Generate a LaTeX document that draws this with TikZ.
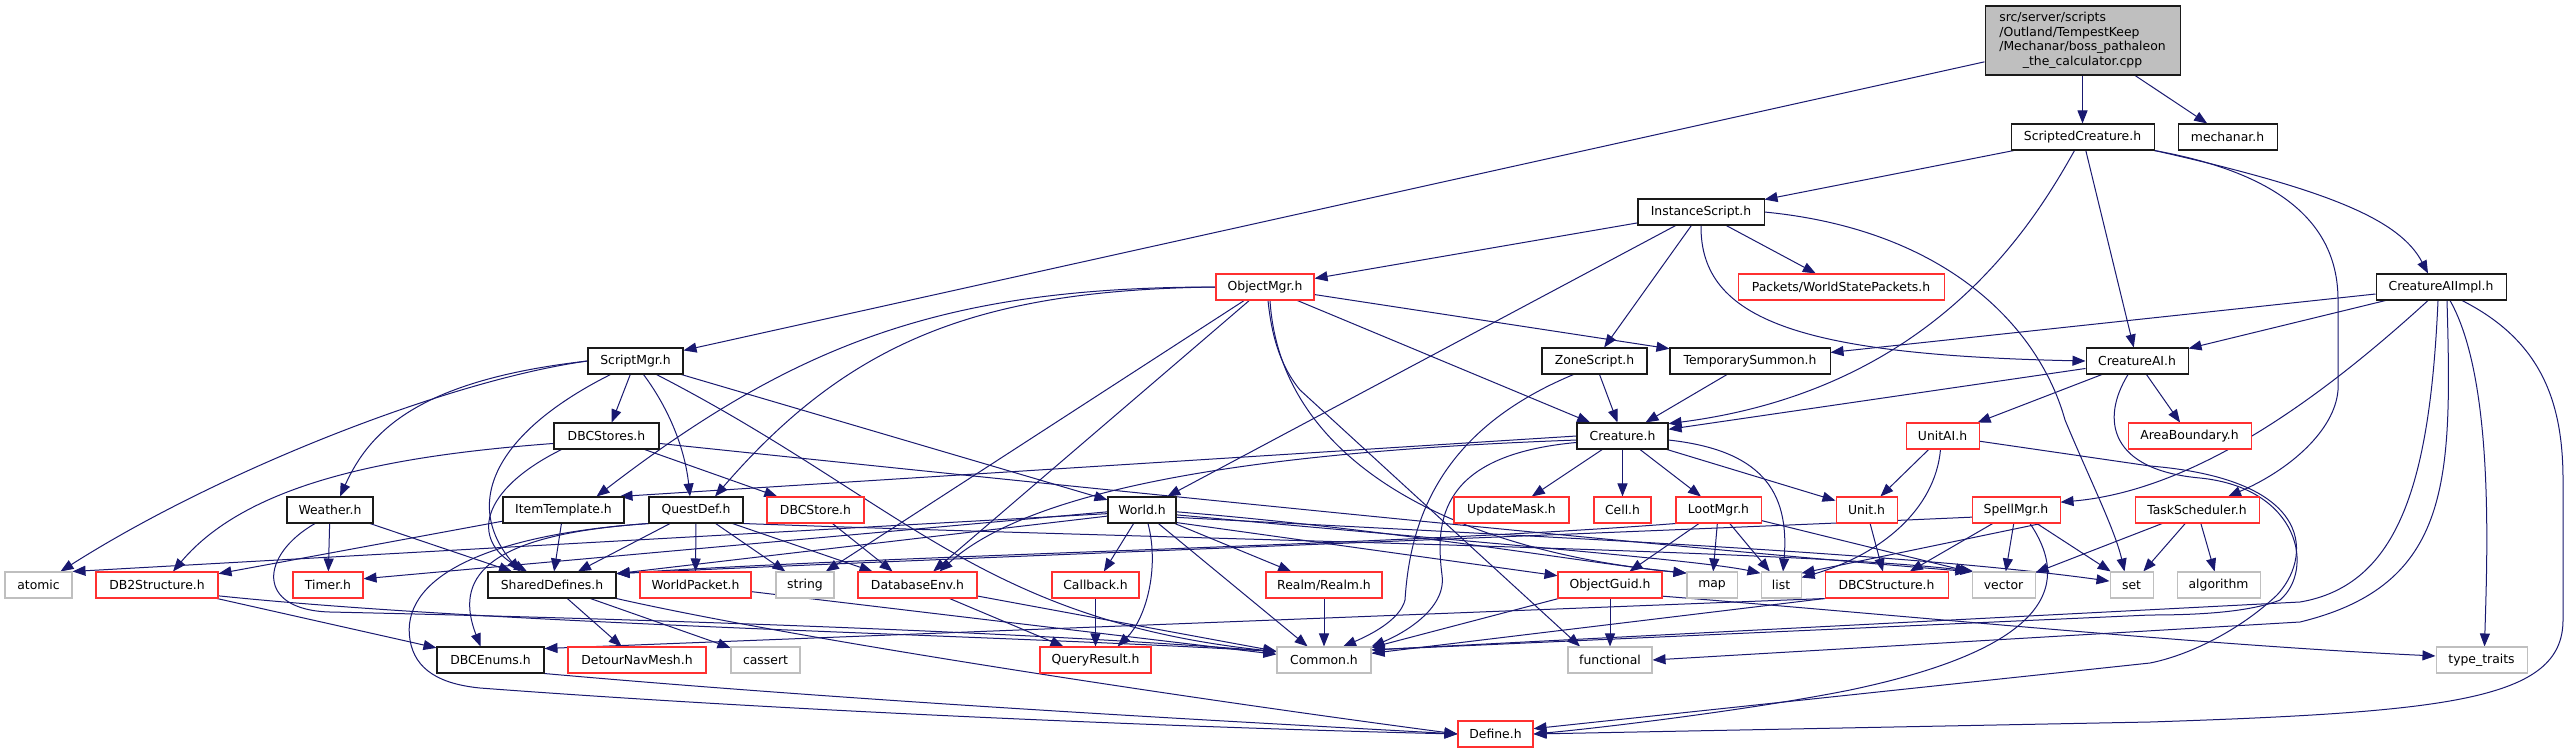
\documentclass[tikz,border=0pt]{standalone}
\usepackage{fontspec}
\setmainfont{DejaVu Sans}
\usetikzlibrary{arrows.meta}
\pgfdeclarelayer{bg}
\pgfsetlayers{bg,main}
\definecolor{edgeblue}{HTML}{191970}
\definecolor{nodered}{HTML}{FF3030}
\definecolor{nodegray}{HTML}{BFBFBF}
\definecolor{nodeblack}{HTML}{1A1A1A}
\newcommand\nodefnt{\fontsize{12.4}{14.7}\selectfont}
\tikzset{
  nb/.style={draw=nodeblack, line width=1.05pt, fill=white, minimum height=26, inner sep=0pt, font=\nodefnt},
  nr/.style={nb, draw=nodered},
  ng/.style={nb, draw=nodegray},
  ed/.style={draw=edgeblue, line width=1pt, -{Triangle[length=13pt,width=10pt]}}
}
\begin{document}
\begin{tikzpicture}[x=1pt,y=-1pt]
\useasboundingbox (0,0) rectangle (2571,753);
% nodes
\node[nb,fill=nodegray,minimum width=195,minimum height=69] (main) at (2082.5,40.5)
  {\begin{tabular}{@{}l@{}}src/server/scripts\\/Outland/TempestKeep\\/Mechanar/boss\_pathaleon\\\multicolumn{1}{@{}c@{}}{\_the\_calculator.cpp}\end{tabular}};
\node[nb,minimum width=143] (sc) at (2082.5,137) {ScriptedCreature.h};
\node[nb,minimum width=99] (mech) at (2227.5,137) {mechanar.h};
\node[nb,minimum width=126] (inst) at (1701,212) {InstanceScript.h};
\node[nr,minimum width=206] (pkts) at (1841,287) {Packets/WorldStatePackets.h};
\node[nb,minimum width=130] (caiimpl) at (2441,287) {CreatureAIImpl.h};
\node[nr,minimum width=98] (objmgr) at (1265,287) {ObjectMgr.h};
\node[nb,minimum width=95] (smgr) at (635.5,361) {ScriptMgr.h};
\node[nb,minimum width=105] (zone) at (1594.5,361) {ZoneScript.h};
\node[nb,minimum width=160] (tsum) at (1750,361) {TemporarySummon.h};
\node[nb,minimum width=102] (cai) at (2137,361) {CreatureAI.h};
\node[nb,minimum width=105] (dbcstores) at (606.5,436) {DBCStores.h};
\node[nb,minimum width=91] (creature) at (1622.5,436) {Creature.h};
\node[nr,minimum width=73] (unitai) at (1942.5,436) {UnitAI.h};
\node[nr,minimum width=123] (areab) at (2189.5,436) {AreaBoundary.h};
\node[nb,minimum width=86] (weather) at (330,510) {Weather.h};
\node[nb,minimum width=121] (itemt) at (563.5,510) {ItemTemplate.h};
\node[nb,minimum width=94] (quest) at (696,510) {QuestDef.h};
\node[nr,minimum width=97] (dbcstore) at (815.5,510) {DBCStore.h};
\node[nb,minimum width=68] (world) at (1142,510) {World.h};
\node[nr,minimum width=115] (updm) at (1511.5,510) {UpdateMask.h};
\node[nr,minimum width=57] (cell) at (1622.5,510) {Cell.h};
\node[nr,minimum width=85] (loot) at (1718.5,510) {LootMgr.h};
\node[nr,minimum width=61] (unit) at (1866.5,510) {Unit.h};
\node[nr,minimum width=88] (spell) at (2016,510) {SpellMgr.h};
\node[nr,minimum width=124] (task) at (2197,510) {TaskScheduler.h};
\node[ng,minimum width=67] (atomic) at (38.5,585) {atomic};
\node[nr,minimum width=122] (db2) at (157,585) {DB2Structure.h};
\node[nr,minimum width=70] (timer) at (328,585) {Timer.h};
\node[nb,minimum width=128] (shared) at (552,585) {SharedDefines.h};
\node[nr,minimum width=111] (wpkt) at (695.5,585) {WorldPacket.h};
\node[ng,minimum width=58] (string) at (805,585) {string};
\node[nr,minimum width=119] (dbenv) at (917.5,585) {DatabaseEnv.h};
\node[nr,minimum width=87] (callback) at (1095.5,585) {Callback.h};
\node[nr,minimum width=116] (realm) at (1324,585) {Realm/Realm.h};
\node[nr,minimum width=104] (guid) at (1610,585) {ObjectGuid.h};
\node[ng,minimum width=50] (map) at (1712,585) {map};
\node[ng,minimum width=40] (list) at (1781,585) {list};
\node[nr,minimum width=123] (dbcstruct) at (1886.5,585) {DBCStructure.h};
\node[ng,minimum width=63] (vector) at (2003.5,585) {vector};
\node[ng,minimum width=43] (set) at (2131.5,585) {set};
\node[ng,minimum width=83] (algo) at (2218.5,585) {algorithm};
\node[nb,minimum width=107] (dbcenums) at (490.5,660) {DBCEnums.h};
\node[nr,minimum width=138] (detour) at (637,660) {DetourNavMesh.h};
\node[ng,minimum width=69] (cassert) at (765.5,660) {cassert};
\node[nr,minimum width=111] (qres) at (1095.5,660) {QueryResult.h};
\node[ng,minimum width=94] (common) at (1324,660) {Common.h};
\node[ng,minimum width=84] (functional) at (1610,660) {functional};
\node[ng,minimum width=91] (typet) at (2481.5,660) {type\_traits};
\node[nr,minimum width=75] (define) at (1495.5,734) {Define.h};
% edges
\begin{pgfonlayer}{bg}
\fill[white] (0,0) rectangle (2571,753);
% main
\draw[ed] (main) -- (sc);
\draw[ed] (main) -- (mech);
\draw[ed] (main) -- (smgr);
% ScriptedCreature
\draw[ed] (sc) -- (inst);
\draw[ed] ([xshift=-8]sc.south) .. controls (2030,230) and (1930,390) .. (creature.15);
\draw[ed] (sc) -- (cai);
\draw[ed] (sc.south east) .. controls (2330,190) and (2400,220) .. ([xshift=-13]caiimpl.north);
\draw[ed] (sc.south east) .. controls (2290,175) and (2338,230) .. (2338,300) -- (2338,390) .. controls (2335,430) and (2290,470) .. ([xshift=31]task.north);
% InstanceScript
\draw[ed] (inst) -- (objmgr);
\draw[ed] (inst) -- (world);
\draw[ed] (inst) -- (zone);
\draw[ed] (inst) -- (pkts);
\draw[ed] (inst.south) .. controls (1700,320) and (1800,355) .. (cai.west);
\draw[ed] (inst.east) .. controls (1950,230) and (2040,330) .. (2065,420) .. controls (2090,480) and (2115,530) .. ([xshift=-7]set.north);
% ObjectMgr
\draw[ed] (objmgr) -- (tsum);
\draw[ed] (objmgr) -- (creature);
\draw[ed] (objmgr.west) .. controls (950,287) and (800,340) .. ([xshift=33]itemt.north);
\draw[ed] (objmgr.west) .. controls (980,290) and (850,340) .. ([xshift=19]quest.north);
\draw[ed] (objmgr) -- (dbenv);
\draw[ed] (objmgr) -- (string);
\draw[ed] ([xshift=3]objmgr.south) .. controls (1272,340) and (1282,368) .. (1300,390) -- ([xshift=-30]functional.north);
\draw[ed] ([xshift=5]objmgr.south) .. controls (1280,460) and (1450,550) .. (map.155);
% TemporarySummon, ZoneScript
\draw[ed] (tsum) -- (creature);
\draw[ed] (zone) -- (creature);
\draw[ed] ([xshift=-21]zone.south) .. controls (1440,430) and (1410,520) .. (1405,600) .. controls (1400,620) and (1370,635) .. ([xshift=19]common.north);
% CreatureAIImpl
\draw[ed] (caiimpl) -- (tsum);
\draw[ed] (caiimpl) -- (cai);
\draw[ed] ([xshift=-13]caiimpl.south) .. controls (2330,390) and (2200,490) .. (spell.10);
\draw[ed] ([xshift=-3]caiimpl.south) .. controls (2430,480) and (2400,585) .. (2300,602) -- (common.12);
\draw[ed] ([xshift=6]caiimpl.south) .. controls (2452,480) and (2452,585) .. (2300,622) -- (functional.east);
\draw[ed] ([xshift=9]caiimpl.south) .. controls (2495,380) and (2487,560) .. ([xshift=3]typet.north);
\draw[ed] ([xshift=21]caiimpl.south) .. controls (2540,340) and (2563,400) .. (2563,480) -- (2563,620) .. controls (2563,700) and (2450,712) .. (2150,722) -- (define.east);
% CreatureAI
\draw[ed] (cai) -- (creature);
\draw[ed] (cai) -- (unitai);
\draw[ed] (cai) -- (areab);
\draw[ed] ([xshift=-9]cai.south) .. controls (2100,420) and (2110,470) .. (2200,478) .. controls (2300,488) and (2315,570) .. (2280,600) .. controls (2250,612) and (2200,615) .. (2150,615) -- (common.12);
% UnitAI
\draw[ed] (unitai) -- (unit);
\draw[ed] ([xshift=-2]unitai.south) .. controls (1935,510) and (1880,555) .. (list.20);
\draw[ed] (unitai.352) -- (2150,466) .. controls (2320,480) and (2310,560) .. (2277,595) .. controls (2240,630) and (2190,655) .. (2150,663) -- (define.8);
% Creature
\draw[ed] (creature) -- (updm);
\draw[ed] (creature) -- (cell);
\draw[ed] (creature) -- (loot);
\draw[ed] (creature) -- (unit);
\draw[ed] (creature.355) .. controls (1760,450) and (1790,490) .. ([xshift=2]list.north);
\draw[ed] (creature.west) -- ([xshift=-5]itemt.north east);
\draw[ed] (creature.185) .. controls (1300,450) and (1040,480) .. ([xshift=22]dbenv.north);
\draw[ed] (creature.188) .. controls (1440,455) and (1435,520) .. (1442,575) .. controls (1447,610) and (1400,635) .. (common.north east);
% LootMgr
\draw[ed] (loot) -- (guid);
\draw[ed] (loot) -- (map);
\draw[ed] (loot) -- (list);
\draw[ed] (loot) -- ([xshift=-35]vector.north);
\draw[ed] (loot.south west) .. controls (1400,545) and (900,555) .. (shared.10);
% Unit, SpellMgr, TaskScheduler
\draw[ed] (unit) -- (dbcstruct);
\draw[ed] (spell) -- (dbcstruct);
\draw[ed] (spell) -- (vector);
\draw[ed] (spell) -- (set);
\draw[ed] (spell.348) -- (list.30);
\draw[ed] (spell.356) .. controls (1700,530) and (900,560) .. (shared.10);
\draw[ed] ([xshift=14]spell.south) .. controls (2075,590) and (2040,650) .. (1850,690) .. controls (1750,710) and (1600,728) .. (define.east);
\draw[ed] (task) -- (vector);
\draw[ed] (task) -- (set);
\draw[ed] (task) -- (algo);
% ObjectGuid, DBCStructure
\draw[ed] (guid) -- (functional);
\draw[ed] (guid) -- (common);
\draw[ed] (guid.348) .. controls (1900,615) and (2200,645) .. (typet.175);
\draw[ed] (dbcstruct.south west) -- (dbcenums.12);
\draw[ed] (dbcstruct.south west) -- (common.8);
% World
\draw[ed] (world) -- (callback);
\draw[ed] ([xshift=6]world.south) .. controls (1160,570) and (1145,620) .. ([xshift=22]qres.north);
\draw[ed] (world) -- (common);
\draw[ed] (world) -- (realm);
\draw[ed] (world.340) -- (guid.170);
\draw[ed] (world.357) .. controls (1400,530) and (1600,565) .. (map.155);
\draw[ed] (world.352) .. controls (1450,540) and (1700,560) .. (list.150);
\draw[ed] (world.348) .. controls (1500,535) and (1900,552) .. (set.170);
\draw[ed] (world.183) -- (timer.10);
\draw[ed] (world.186) -- (atomic.north east);
\draw[ed] (world.190) -- (shared.10);
% QuestDef
\draw[ed] (quest) -- (shared);
\draw[ed] (quest) -- (wpkt);
\draw[ed] (quest) -- (string);
\draw[ed] (quest.south west) .. controls (480,535) and (455,580) .. ([xshift=-10]dbcenums.north);
\draw[ed] (quest.south west) .. controls (480,535) and (400,580) .. (410,640) .. controls (415,670) and (440,684) .. (480,688) .. controls (800,712) and (1200,728) .. (define.west);
\draw[ed] ([xshift=-11]quest.south east) -- ([xshift=-45]dbenv.north);
\draw[ed] (quest.south east) .. controls (1200,540) and (1800,550) .. ([xshift=-30]vector.north);
% ItemTemplate
\draw[ed] (itemt) -- (shared);
\draw[ed] (itemt) -- (db2);
% DBCStores
\draw[ed] (dbcstores.188) .. controls (400,455) and (250,480) .. ([xshift=16]db2.north);
\draw[ed] ([xshift=-45]dbcstores.south) .. controls (480,490) and (470,540) .. ([xshift=-25]shared.north);
\draw[ed] (dbcstores) -- (dbcstore);
\draw[ed] (dbcstores.352) .. controls (1200,500) and (1700,550) .. ([xshift=-35]vector.north);
% ScriptMgr
\draw[ed] (smgr) -- (dbcstores);
\draw[ed] ([xshift=8]smgr.south) .. controls (670,410) and (685,450) .. ([xshift=-6]quest.north);
\draw[ed] ([xshift=-25]smgr.south) .. controls (500,430) and (460,500) .. ([xshift=-32]shared.north);
\draw[ed] (smgr) -- (world);
\draw[ed] ([xshift=21]smgr.south) .. controls (900,500) and (980,620) .. (common.170);
\draw[ed] (smgr.west) .. controls (450,380) and (220,470) .. ([xshift=22]atomic.north);
\draw[ed] (smgr.west) .. controls (420,380) and (370,430) .. ([xshift=10]weather.north);
% Weather
\draw[ed] (weather) -- (timer);
\draw[ed] (weather) -- (shared);
\draw[ed] ([xshift=-15]weather.south) .. controls (260,555) and (255,610) .. (330,612) .. controls (600,618) and (1000,630) .. (common.170);
% DB stuff
\draw[ed] ([xshift=17]dbcstore.south) -- ([xshift=-25]dbenv.north);
\draw[ed] (dbenv) -- (qres);
\draw[ed] (dbenv) -- (common);
\draw[ed] (callback) -- (qres);
\draw[ed] (realm) -- (common);
\draw[ed] (wpkt) -- (common);
\draw[ed] (db2) -- (dbcenums);
\draw[ed] (db2.350) .. controls (500,625) and (1000,635) .. (common.170);
% SharedDefines, DBCEnums
\draw[ed] (shared) -- (detour);
\draw[ed] (shared) -- (cassert);
\draw[ed] (shared.south east) .. controls (800,640) and (1200,700) .. (define.west);
\draw[ed] (dbcenums.south east) .. controls (900,705) and (1300,725) .. (define.west);
\end{pgfonlayer}
\end{tikzpicture}
\end{document}
